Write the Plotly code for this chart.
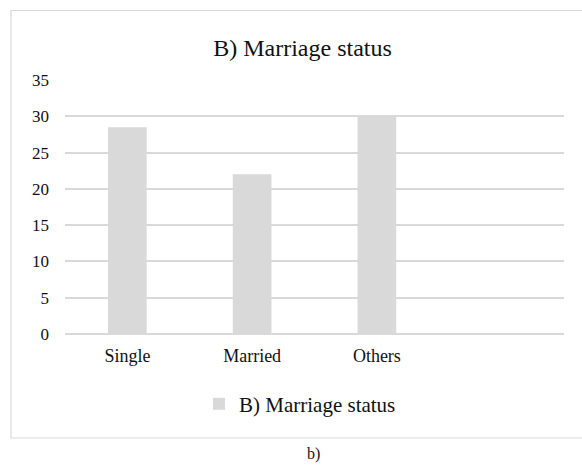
import plotly.graph_objects as go

categories = ["Single", "Married", "Others"]
values = [28.5, 22.0, 30.0]
series_name = "B) Marriage status"
y_ticks = [0, 5, 10, 15, 20, 25, 30, 35]

W, H = 582, 468
L, R, T, B = 65, 18, 80, 134
pw, ph = W - L - R, H - T - B

def px_x(p):
    return (p - L) / pw

def px_y(p):
    return (H - B - p) / ph

font = "Liberation Serif"

fig = go.Figure()
fig.add_trace(go.Bar(
    x=categories, y=values, name=series_name,
    marker=dict(color="#d9d9d9", line=dict(width=0)),
    width=0.31, showlegend=True,
))

fig.update_layout(
    width=W, height=H,
    margin=dict(l=L, r=R, t=T, b=B, pad=0),
    paper_bgcolor="white", plot_bgcolor="white",
    font=dict(family=font, size=17, color="#111"),
    title=dict(text="B) Marriage status", x=px_x(302.5), xref="paper", xanchor="center",
               y=1 - 47.5 / H, yref="container", yanchor="middle",
               font=dict(family=font, size=24, color="#111")),
    xaxis=dict(type="category", categoryarray=categories, range=[-0.5, 3.5],
               showgrid=False, showline=False, ticks="", zeroline=False,
               ticklabelstandoff=9, tickfont=dict(family=font, size=18, color="#111")),
    yaxis=dict(range=[0, 35], tickvals=y_ticks, showgrid=True, gridcolor="#d9d9d9", gridwidth=1.5,
               zeroline=True, zerolinecolor="#d9d9d9", zerolinewidth=1.5, showline=False, ticks="",
               ticklabelstandoff=15, tickfont=dict(family=font, size=17, color="#111")),
    showlegend=True,
    legend=dict(orientation="h", x=px_x(300), xanchor="center", y=px_y(404), yanchor="middle",
                font=dict(family=font, size=21, color="#111"), itemwidth=30,
                bgcolor="rgba(0,0,0,0)"),
    bargap=0.69,
)

fig.add_shape(type="rect", xref="paper", yref="paper",
              x0=px_x(11), x1=px_x(640), y0=px_y(438), y1=px_y(10.5),
              line=dict(color="#d9d9d9", width=1.2), fillcolor="rgba(0,0,0,0)", layer="below")

fig.add_annotation(text="b)", xref="paper", yref="paper", x=px_x(313), y=px_y(454),
                   showarrow=False, font=dict(family=font, size=16, color="#111"),
                   xanchor="center", yanchor="middle")

fig.write_html("out.html")
